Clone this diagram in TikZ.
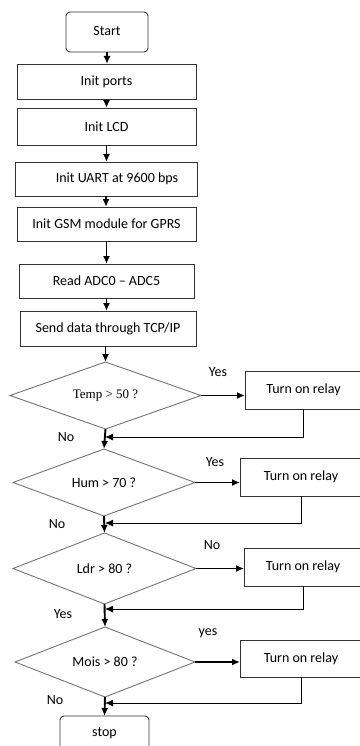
\documentclass[tikz,border=0pt]{standalone}
\usepackage{fontspec}
\setmainfont{Carlito}
\newfontfamily\timesfont{Liberation Serif}
\usetikzlibrary{shapes.geometric, arrows.meta, positioning}

\begin{document}
\begin{tikzpicture}[x=1pt, y=-1pt,
        font=\fontsize{14}{16}\selectfont,
        box/.style={draw=black!80, line width=0.9pt, inner sep=0pt, outer sep=0pt},
        term/.style={box, rounded corners=4pt},
        relay/.style={box, minimum width=117pt, minimum height=38pt},
        decision/.style={diamond, aspect=3, draw=black!55, line width=0.9pt, inner sep=0pt, outer sep=0pt},
        flow/.style={-{Latex[length=8pt,width=7pt]}, line width=1.9pt},
        back/.style={-{Latex[length=8pt,width=7pt]}, line width=0.9pt},
        lbl/.style={inner sep=0pt}]
        \useasboundingbox (0,0) rectangle (359,746);
        % main column
        \node[term, minimum width=82pt, minimum height=40pt] (start) at (107,32) {\raisebox{3pt}{Start}};
        \node[box, minimum width=179pt, minimum height=35pt] (ports) at (106.5,81.5) {Init ports};
        \node[box, minimum width=179pt, minimum height=37pt] (lcd) at (106.5,126.5) {Init LCD};
        \node[box, minimum width=182pt, minimum height=34pt] (uart) at (106,179) {\hspace*{22pt}Init UART at 9600 bps};
        \node[box, minimum width=179pt, minimum height=34pt] (gsm) at (106.5,224) {Init GSM module for GPRS};
        \node[box, minimum width=175pt, minimum height=34pt] (adc) at (106.5,281) {Read ADC0 -- ADC5};
        \node[box, minimum width=176pt, minimum height=35pt] (send) at (108,328.5) {Send data through TCP/IP};
        % decisions
        \node[decision, minimum width=191pt, minimum height=67pt] (temp) at (105.5,395.5) {\timesfont\fontsize{13}{15}\selectfont Temp > 50 ?};
        \node[decision, minimum width=182pt, minimum height=67pt] (hum) at (104,482.5) {Hum > 70 ?};
        \node[decision, minimum width=183pt, minimum height=71pt] (ldr) at (104.5,568.5) {Ldr > 80 ?};
        \node[decision, minimum width=180pt, minimum height=70pt] (mois) at (105,662) {Mois > 80 ?};
        \node[term, minimum width=89pt, minimum height=34pt] (stop) at (104.5,733) {stop};
        % relays
        \node[relay] (r1) at (303.5,390) {Turn on relay};
        \node[relay, minimum width=122pt] (r2) at (301,477) {Turn on relay};
        \node[relay, minimum width=118pt] (r3) at (303,567) {Turn on relay};
        \node[relay, minimum width=122pt, minimum height=37pt] (r4) at (301,658.5) {Turn on relay};
        % joins on the main line
        \coordinate (j1) at (105,437);
        \coordinate (j2) at (105,523);
        \coordinate (j3) at (105,609);
        \coordinate (j4) at (105,703);
        % labels
        \node[lbl] (yes1) at (218,372) {Yes};
        \node[lbl] (no1) at (66,437) {No};
        \node[lbl] (yes2) at (215,462) {Yes};
        \node[lbl] (no2) at (57,524) {No};
        \node[lbl] (no3) at (212,545) {No};
        \node[lbl] (yes3) at (63,614) {Yes};
        \node[lbl] (yes4) at (208,633) {yes};
        \node[lbl] (no4) at (55,700) {No};
        % main arrows
        \draw[flow] (start.south) -- (start.south |- ports.north);
        \draw[flow] (ports.south) -- (ports.south |- lcd.north);
        \draw[flow] (lcd.south) -- (lcd.south |- uart.north);
        \draw[flow] (uart.south) -- (uart.south |- gsm.north);
        \draw[flow] (gsm.south) -- (gsm.south |- adc.north);
        \draw[flow] (adc.south) -- (adc.south |- send.north);
        \draw[flow] (send.south -| temp.north) -- (temp.north);
        \draw[flow] (temp.south) -- (hum.north);
        \draw[flow] (hum.south) -- (ldr.north);
        \draw[flow] (ldr.south) -- (mois.north);
        \draw[flow] (mois.south) -- (stop.north);
        % branches
        \draw[flow] (temp.east) -- (temp.east -| r1.west);
        \draw[flow] (hum.east) -- (hum.east -| r2.west);
        \draw[flow] (ldr.east) -- (ldr.east -| r3.west);
        \draw[flow] (mois.east) -- (mois.east -| r4.west);
        \draw[back] (r1.south) |- (j1);
        \draw[back] (r2.south) |- (j2);
        \draw[back] (r3.south) |- (j3);
        \draw[back] (r4.south) |- (j4);
    \end{tikzpicture}
\end{document}
